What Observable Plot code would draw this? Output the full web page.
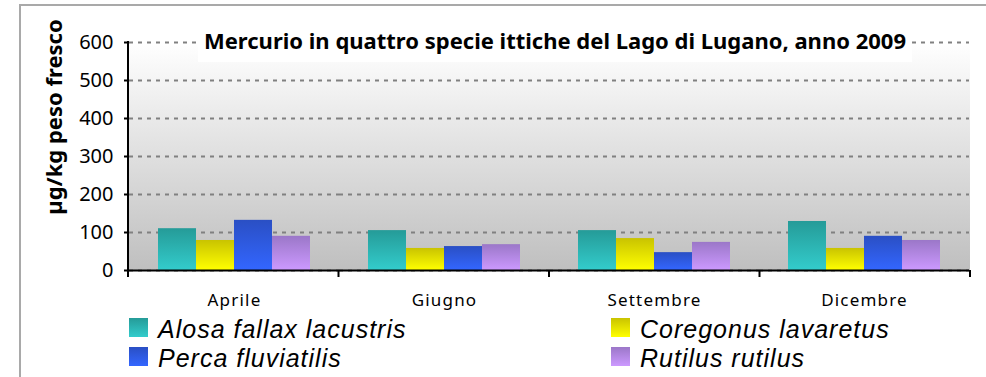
<!DOCTYPE html>
<html>
<head>
<meta charset="utf-8">
<script src="https://cdn.jsdelivr.net/npm/d3@7"></script>
<script src="https://cdn.jsdelivr.net/npm/@observablehq/plot@0.6"></script>
<style>
  html, body { margin: 0; padding: 0; background: #fff; }
  #wrap { position: relative; width: 986px; height: 377px; overflow: hidden; font-family: "Noto Sans", sans-serif; }
  #border { position: absolute; left: 19px; top: 4px; width: 980px; height: 400px;
            border-left: 2px solid #a9a9a9; border-top: 2px solid #a9a9a9; }
  #chart { position: absolute; left: 0; top: 0; }
  .sw { position: absolute; width: 19px; height: 19px; }
  .lt { position: absolute; font-family: "Liberation Sans", sans-serif; font-style: italic; font-size: 25px; line-height: 25px; letter-spacing: 1px; color: #000; white-space: nowrap; }
</style>
</head>
<body>
<div id="wrap">
  <div id="border"></div>
  <div id="chart"></div>
</div>
<script>
// Mercury in four fish species of Lake Lugano, 2009 (µg/kg fresh weight)
const months = ["Aprile", "Giugno", "Settembre", "Dicembre"];
const species = ["Alosa fallax lacustris", "Coregonus lavaretus", "Perca fluviatilis", "Rutilus rutilus"];
const alosa = [110, 105, 105, 129];
const coregonus = [79, 58, 84, 58];
const perca = [132, 63, 47, 90];
const rutilus = [90, 68, 74, 79];
const yTicks = [0, 100, 200, 300, 400, 500, 600];
const titleText = "Mercurio in quattro specie ittiche del Lago di Lugano, anno 2009";
const yLabel = "µg/kg peso fresco";

// gradient stops (top, bottom) for each species
const gradTop = ["#259b98", "#c9c300", "#2a4fc4", "#9b77c8"];
const gradBottom = ["#33cccc", "#ffff00", "#3366ff", "#cc99ff"];

const seriesValues = [alosa, coregonus, perca, rutilus];
const rows = [];
months.forEach((m, i) => species.forEach((s, j) => rows.push({ month: m, species: s, value: seriesValues[j][i] })));

const chart = Plot.plot({
  width: 986,
  height: 312,
  marginLeft: 128,
  marginRight: 16,
  marginTop: 42,
  marginBottom: 42,
  style: { fontFamily: "'Noto Sans', sans-serif", color: "#000", background: "transparent" },
  fx: { domain: months, padding: 0, label: null },
  x: { domain: species, paddingInner: 0, paddingOuter: 0.7, axis: null },
  y: { domain: [0, 600], axis: null },
  color: { domain: species, range: species.map((_, i) => `url(#g${i})`) },
  marks: [
    Plot.gridY(yTicks, { stroke: "#808080", strokeOpacity: 1, strokeWidth: 2, strokeDasharray: "4,5" }),
    Plot.barY(rows, { fx: "month", x: "species", y: "value", fill: "species" }),
    Plot.ruleY([0], { stroke: "#000", strokeWidth: 2 }),
    Plot.axisY(yTicks, { anchor: "left", tickSize: 5, tickPadding: 11, fontSize: 20, stroke: "#000", strokeWidth: 2, label: null }),
    Plot.axisFx({ anchor: "bottom", tickSize: 0, tickPadding: 23, fontSize: 17, label: null })
  ]
});

document.getElementById("chart").appendChild(chart);

const svg = d3.select(chart);
svg.selectAll("[aria-label='fx-axis tick label'] text, [aria-label='fx-axis tick label']").style("letter-spacing", "1.2px");

const defs = svg.insert("defs", ":first-child");
const bg = defs.append("linearGradient").attr("id", "bg").attr("x1", 0).attr("y1", 0).attr("x2", 0).attr("y2", 1);
bg.append("stop").attr("offset", 0).attr("stop-color", "#ffffff");
bg.append("stop").attr("offset", 1).attr("stop-color", "#bfbfbf");
species.forEach((s, i) => {
  const g = defs.append("linearGradient").attr("id", `g${i}`).attr("x1", 0).attr("y1", 0).attr("x2", 0).attr("y2", 1);
  g.append("stop").attr("offset", 0).attr("stop-color", gradTop[i]);
  g.append("stop").attr("offset", 1).attr("stop-color", gradBottom[i]);
});

const fx = chart.scale("fx");
const y = chart.scale("y");
const x0 = fx.range[0], x1 = fx.range[1];
const step = (x1 - x0) / months.length;
const y0 = y.apply(0), yTop = y.apply(600);

// plot-area background, one gradient across all four months
svg.insert("rect", "defs + *").attr("x", x0).attr("y", yTop).attr("width", x1 - x0).attr("height", y0 - yTop).attr("fill", "url(#bg)");

// axis line and category boundary ticks
const deco = svg.append("g").attr("stroke", "#000").attr("stroke-width", 2);
deco.append("line").attr("x1", x0).attr("x2", x0).attr("y1", yTop - 1).attr("y2", y0 + 7);
d3.range(months.length + 1).forEach(i => {
  const xx = x0 + i * step;
  deco.append("line").attr("x1", xx).attr("x2", xx).attr("y1", y0).attr("y2", y0 + 7);
});

// title with its white box
const tg = svg.append("g");
const t = tg.append("text").attr("x", (x0 + x1) / 2 + 6).attr("y", yTop + 7)
  .attr("text-anchor", "middle").attr("font-weight", "bold").attr("font-size", 22).attr("fill", "#000").text(titleText);
const bb = t.node().getBBox();
tg.insert("rect", "text").attr("x", bb.x - 6).attr("y", yTop - 17).attr("width", bb.width + 12).attr("height", 37).attr("fill", "#fff");

// rotated y-axis label
svg.append("text").attr("transform", `translate(62,${(yTop + y0) / 2 - 39}) rotate(-90)`)
  .attr("text-anchor", "middle").attr("font-weight", "bold").attr("font-size", 22).attr("fill", "#000").text(yLabel);

// legend: two columns, two rows
const legendPos = [[129, 318], [611, 318], [129, 347], [611, 347]];
const wrap = document.getElementById("wrap");
species.forEach((s, i) => {
  const [lx, ly] = legendPos[i];
  const sw = document.createElement("div");
  sw.className = "sw";
  sw.style.left = lx + "px";
  sw.style.top = ly + "px";
  sw.style.background = `linear-gradient(${gradTop[i]}, ${gradBottom[i]})`;
  wrap.appendChild(sw);
  const tx = document.createElement("div");
  tx.className = "lt";
  tx.style.left = (lx + 29) + "px";
  tx.style.top = (ly - 1) + "px";
  tx.textContent = s;
  wrap.appendChild(tx);
});
</script>
</body>
</html>
